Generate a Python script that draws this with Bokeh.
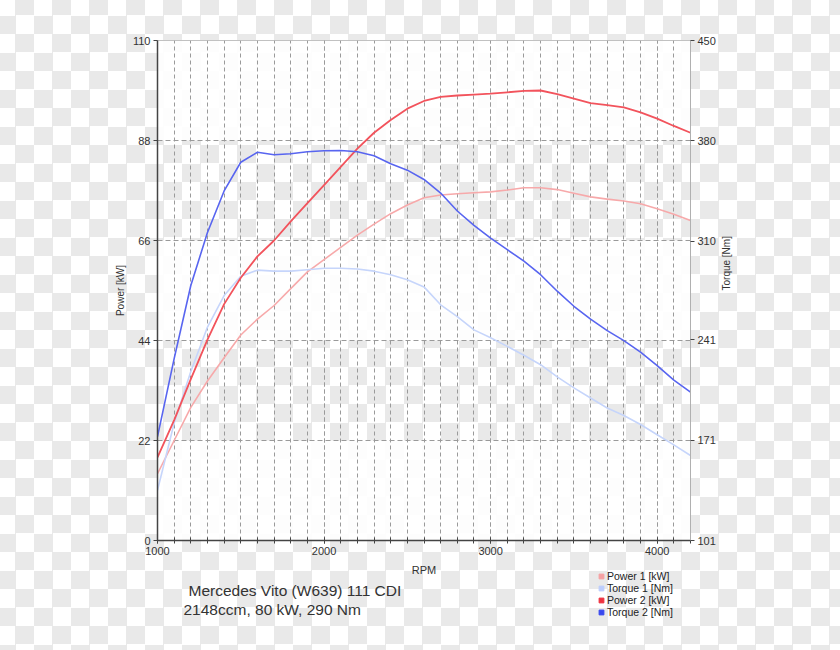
from bokeh.plotting import figure
from bokeh.models import (Range1d, LinearAxis, FixedTicker, Label, Legend,
                          LegendItem, BoxAnnotation)
from bokeh.layouts import column
from bokeh.embed import file_html
from bokeh.resources import INLINE
import math

# ---------------- data ----------------
rpm = [1000, 1100, 1200, 1300, 1400, 1500, 1600, 1700, 1800, 1900, 2000,
       2100, 2200, 2300, 2400, 2500, 2600, 2700, 2800, 2900, 3000,
       3100, 3200, 3300, 3400, 3500, 3600, 3700, 3800, 3900, 4000,
       4100, 4200]

power1_kw = [14.7, 22.0, 29.3, 35.1, 40.2, 45.2, 48.7, 51.7, 55.4, 59.1, 61.8,
             64.5, 67.2, 69.6, 71.9, 73.8, 75.4, 76.0, 76.3, 76.5, 76.7,
             77.1, 77.6, 77.6, 77.2, 76.4, 75.6, 75.1, 74.7, 74.1, 73.0,
             71.8, 70.4]

torque1_nm = [136, 183, 219, 250, 272, 285.5, 289.7, 289, 289, 290, 291,
              291, 290.5, 289, 286.5, 283, 278, 265.5, 257.2, 248, 242.5,
              236.5, 230.3, 223.7, 215.2, 207.5, 200.5, 193.5, 188.3, 182, 174.8,
              167.7, 160.3]

power2_kw = [18.3, 26.5, 35.5, 44.2, 52.0, 57.8, 62.5, 66.0, 70.2, 74.2, 78.2,
             82.2, 86.2, 89.7, 92.5, 95.0, 96.7, 97.6, 97.9, 98.1, 98.3,
             98.6, 98.9, 99.0, 98.2, 97.2, 96.2, 95.8, 95.3, 94.2, 92.8,
             91.2, 89.7]

torque2_nm = [173.5, 228, 279, 316, 345, 365, 372, 370.3, 371, 372.3, 373,
              373.2, 372.3, 369.5, 364, 359.5, 353, 343.5, 331, 321, 312,
              304, 296, 286.5, 275, 264.5, 255.5, 247.5, 240.5, 232.5, 223,
              213, 204.5]

power_ticks = [0, 22, 44, 66, 88, 110]
torque_ticks = [101, 171, 241, 310, 380, 450]
rpm_major = [1000, 2000, 3000, 4000]
rpm_minor = list(range(1000, 4201, 100))
rpm_min, rpm_max = 1000, 4200

series_labels = ["Power 1 [kW]", "Torque 1 [Nm]", "Power 2 [kW]", "Torque 2 [Nm]"]
title_lines = ["Mercedes Vito (W639) 111 CDI", "2148ccm, 80 kW, 290 Nm"]

# ---------------- styling ----------------
FONT = "Liberation Sans"
c_p1, c_t1, c_p2, c_t2 = "#f7a9aa", "#c6d5fb", "#f2535c", "#5865f0"
m_p1, m_t1, m_p2, m_t2 = "#f5a0a2", "#bccdfd", "#ee3340", "#3848ee"
GRID = "#9a9a9a"
DARK = "#444444"
TXT = "#333333"
FRAME_W = 533
BORDER_L, BORDER_R = 157, 150

p = figure(frame_width=FRAME_W, frame_height=500,
           min_border_left=BORDER_L, min_border_right=BORDER_R,
           min_border_top=40, min_border_bottom=38,
           x_range=Range1d(rpm_min, rpm_max),
           y_range=Range1d(power_ticks[0], power_ticks[-1]),
           output_backend="svg", toolbar_location=None)
p.extra_y_ranges = {"torque": Range1d(torque_ticks[0], torque_ticks[-1])}

p.background_fill_alpha = 0
p.border_fill_alpha = 0
p.outline_line_color = "#b0b0b0"
p.outline_line_width = 1

# white bands (alternate)
for i in range(0, len(power_ticks) - 1, 2):
    p.add_layout(BoxAnnotation(bottom=power_ticks[i], top=power_ticks[i + 1],
                               fill_color="white", fill_alpha=0.88,
                               line_alpha=0, level="image"))

# x axis
xa = p.xaxis[0]
xa.ticker = FixedTicker(ticks=rpm_major, minor_ticks=rpm_minor)
xa.axis_label = "RPM"
xa.axis_label_text_font = FONT
xa.axis_label_text_font_style = "normal"
xa.axis_label_text_font_size = "11px"
xa.axis_label_text_color = TXT
xa.axis_label_standoff = 6
xa.major_label_text_font = FONT
xa.major_label_text_font_size = "11px"
xa.major_label_text_color = TXT
xa.major_label_standoff = 3
xa.axis_line_color = DARK
xa.axis_line_width = 1.5
xa.major_tick_line_color = DARK
xa.minor_tick_line_color = DARK
xa.major_tick_in = 3
xa.major_tick_out = 3
xa.minor_tick_in = 3
xa.minor_tick_out = 3

# left axis
ya = p.yaxis[0]
ya.ticker = FixedTicker(ticks=power_ticks, minor_ticks=[])
ya.axis_label = "Power [kW]"
ya.axis_label_text_font = FONT
ya.axis_label_text_font_style = "normal"
ya.axis_label_text_font_size = "10px"
ya.axis_label_text_color = TXT
ya.axis_label_standoff = 4
ya.major_label_text_font = FONT
ya.major_label_text_font_size = "11px"
ya.major_label_text_color = TXT
ya.major_label_standoff = 3
ya.axis_line_color = DARK
ya.axis_line_width = 1.5
ya.major_tick_line_color = DARK
ya.major_tick_in = 0
ya.major_tick_out = 4

# right axis
ra = LinearAxis(y_range_name="torque",
                ticker=FixedTicker(ticks=torque_ticks, minor_ticks=[]))
ra.axis_label = "Torque [Nm]"
ra.axis_label_text_font = FONT
ra.axis_label_text_font_style = "normal"
ra.axis_label_text_font_size = "10px"
ra.axis_label_text_color = TXT
ra.axis_label_standoff = 8
try:
    ra.axis_label_orientation = math.pi / 2
except Exception:
    pass
ra.major_label_text_font = FONT
ra.major_label_text_font_size = "11px"
ra.major_label_text_color = TXT
ra.major_label_standoff = 3
ra.axis_line_color = "#b0b0b0"
ra.axis_line_width = 1
ra.major_tick_line_color = DARK
ra.major_tick_in = 0
ra.major_tick_out = 4
p.add_layout(ra, "right")

# grids
p.xgrid.ticker = xa.ticker
p.xgrid.grid_line_color = GRID
p.xgrid.grid_line_dash = "4 3"
p.xgrid.grid_line_width = 1
p.xgrid.minor_grid_line_color = GRID
p.xgrid.minor_grid_line_dash = "4 3"
p.xgrid.minor_grid_line_width = 1
p.ygrid.ticker = ya.ticker
p.ygrid.grid_line_color = GRID
p.ygrid.grid_line_dash = "5 3"
p.ygrid.grid_line_width = 1

# lines
p.line(rpm, power1_kw, line_color=c_p1, line_width=1.6, line_join="round")
p.line(rpm, torque1_nm, y_range_name="torque", line_color=c_t1,
       line_width=1.6, line_join="round")
p.line(rpm, power2_kw, line_color=c_p2, line_width=1.8, line_join="round")
p.line(rpm, torque2_nm, y_range_name="torque", line_color=c_t2,
       line_width=1.6, line_join="round")

# ---------------- bottom strip: title text + legend ----------------
# same horizontal frame as the chart, so positions are relative to the frame's left edge
q = figure(frame_width=FRAME_W, frame_height=80,
           min_border_left=BORDER_L, min_border_right=BORDER_R,
           min_border_top=0, min_border_bottom=0,
           x_range=Range1d(0, FRAME_W), y_range=Range1d(0, 80),
           x_axis_type=None, y_axis_type=None,
           output_backend="svg", toolbar_location=None)
q.outline_line_color = None
q.background_fill_alpha = 0
q.border_fill_alpha = 0
q.margin = (-8, 0, 0, 0)

# legend swatches: renderers holding a single NaN point (nothing drawn in the plot)
items = []
for lab, col in zip(series_labels, [m_p1, m_t1, m_p2, m_t2]):
    r = q.scatter(x=[float("nan")], y=[float("nan")], marker="square",
                  fill_color=col, line_color=col)
    items.append(LegendItem(label=lab, renderers=[r]))
leg = Legend(items=items, location=(438, 32), orientation="vertical",
             glyph_width=12, glyph_height=12, label_height=12,
             label_standoff=0, spacing=0, padding=0, margin=0,
             label_text_font=FONT, label_text_font_size="10.5px",
             label_text_color="#222222",
             background_fill_alpha=0, border_line_alpha=0)
q.add_layout(leg)

q.add_layout(Label(x=31, y=60, x_units="screen", y_units="screen",
                   text=title_lines[0], text_baseline="middle",
                   text_font=FONT, text_font_size="15.5px",
                   text_color=TXT))
q.add_layout(Label(x=26, y=41, x_units="screen", y_units="screen",
                   text=title_lines[1], text_baseline="middle",
                   text_font=FONT, text_font_size="15.5px",
                   text_color=TXT))

page = column(p, q, spacing=0)
page.styles = {
    "background-image": "conic-gradient(#e9e9e9 25%, #ffffff 0 50%, #e9e9e9 0 75%, #ffffff 0)",
    "background-size": "37px 37px",
    "background-position": "-3px -3px",
}

open("out.html", "w").write(file_html(page, INLINE))
